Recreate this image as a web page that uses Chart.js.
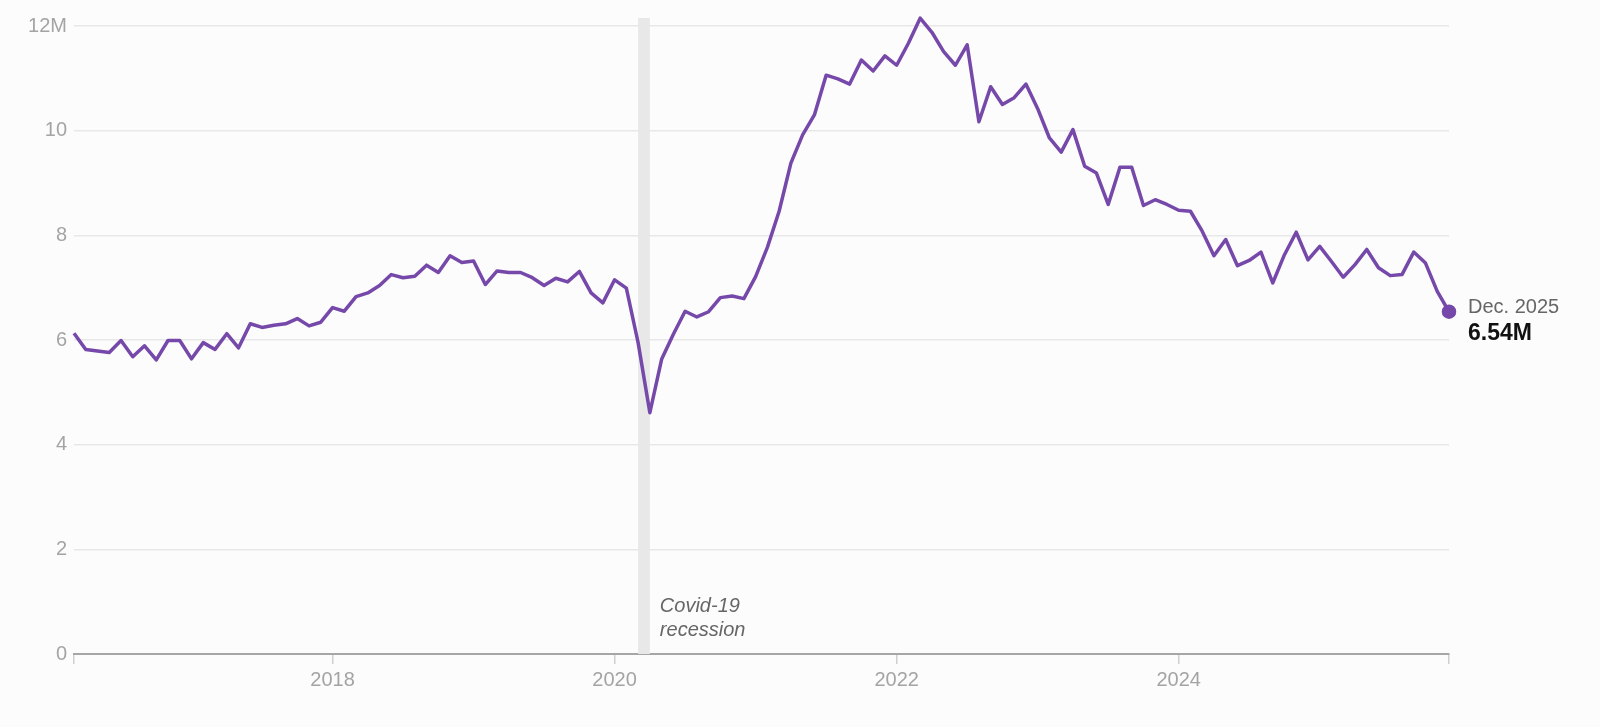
<!DOCTYPE html>
<html>
<head>
<meta charset="utf-8">
<title>Job openings</title>
<script src="https://cdn.jsdelivr.net/npm/chart.js@4.4.1/dist/chart.umd.min.js"></script>
<style>
    html, body { margin: 0; padding: 0; background: #fcfcfc; }
    #wrap { position: relative; width: 1600px; height: 727px; }
</style>
</head>
<body>
<div id="wrap"><canvas id="jobs-chart"></canvas></div>
<script>
"use strict";

// First month on the axis (March 2016), one value per month after that
const START_YEAR = 2016;
const START_MONTH = 3;

// Job openings, millions, Mar 2016 .. Dec 2025
const OPENINGS = [
    6.13, 5.82, 5.79, 5.76, 5.99, 5.68, 5.89, 5.62, 5.99, 5.99,
    5.64, 5.95, 5.82, 6.12, 5.85, 6.31, 6.24, 6.28, 6.31, 6.41,
    6.27, 6.34, 6.62, 6.55, 6.83, 6.90, 7.04, 7.25, 7.19, 7.22,
    7.43, 7.29, 7.61, 7.48, 7.51, 7.06, 7.32, 7.29, 7.29, 7.19,
    7.04, 7.18, 7.11, 7.31, 6.90, 6.71, 7.15, 6.99, 5.95, 4.61,
    5.63, 6.11, 6.55, 6.44, 6.54, 6.81, 6.84, 6.79, 7.21, 7.77,
    8.46, 9.38, 9.92, 10.30, 11.06, 10.99, 10.89, 11.35, 11.14, 11.43,
    11.25, 11.67, 12.15, 11.88, 11.51, 11.25, 11.64, 10.17, 10.84, 10.50,
    10.63, 10.89, 10.42, 9.86, 9.59, 10.02, 9.32, 9.19, 8.59, 9.30,
    9.30, 8.57, 8.68, 8.59, 8.48, 8.46, 8.08, 7.61, 7.92, 7.42,
    7.52, 7.68, 7.09, 7.63, 8.06, 7.53, 7.79, 7.50, 7.20, 7.44,
    7.73, 7.38, 7.23, 7.25, 7.68, 7.47, 6.93, 6.54
];

const YEAR_TICKS = ["2018", "2020", "2022", "2024"];
const Y_MAX = 12;
const Y_STEP = 2;

const RECESSION = ["2020-03", "2020-04"];
const RECESSION_TEXT = ["Covid-19", "recession"];
const END_DATE_TEXT = "Dec. 2025";
const END_VALUE_TEXT = "6.54M";

(function () {
    const FONT = "'Liberation Sans', Arial, sans-serif";
    const PURPLE = "#7548a9";
    const TICK_GREY = "#a4a4a4";

    /**
     * Month keys like 2016-03 for every value
     */
    function buildMonths(n) {
        const out = [];
        for (let i = 0; i < n; i++) {
            const m = START_MONTH - 1 + i;
            const y = START_YEAR + Math.floor(m / 12);
            out.push(y + "-" + String((m % 12) + 1).padStart(2, "0"));
        }
        return out;
    }

    const months = buildMonths(OPENINGS.length);
    const last = OPENINGS.length - 1;

    /**
     * Recession band, its note and the end-of-line label
     */
    const annotations = {
        id: "annotations",
        beforeDatasetsDraw: function (chart) {
            const c = chart.ctx;
            const xs = chart.scales.x;
            const ys = chart.scales.y;
            const x0 = xs.getPixelForValue(months.indexOf(RECESSION[0]));
            const x1 = xs.getPixelForValue(months.indexOf(RECESSION[1]));
            const top = ys.top - 8;

            c.save();
            c.fillStyle = "#e8e8e8";
            c.fillRect(x0, top, x1 - x0, ys.bottom - top);

            c.fillStyle = "#666";
            c.font = "italic 20px " + FONT;
            c.textAlign = "left";
            c.textBaseline = "alphabetic";
            c.fillText(RECESSION_TEXT[0], x1 + 10, ys.bottom - 42);
            c.fillText(RECESSION_TEXT[1], x1 + 10, ys.bottom - 18);
            c.restore();
        },
        afterDatasetsDraw: function (chart) {
            const c = chart.ctx;
            const px = chart.scales.x.getPixelForValue(last);
            const py = chart.scales.y.getPixelForValue(OPENINGS[last]);

            c.save();
            c.textAlign = "left";
            c.textBaseline = "alphabetic";
            c.fillStyle = "#666";
            c.font = "20px " + FONT;
            c.fillText(END_DATE_TEXT, px + 19, py + 1);
            c.fillStyle = "#111";
            c.font = "bold 23px " + FONT;
            c.fillText(END_VALUE_TEXT, px + 19, py + 28);
            c.restore();
        },
    };

    const ctx = document.getElementById("jobs-chart").getContext("2d");

    new Chart(ctx, {
        type: "line",
        data: {
            labels: months,
            datasets: [
                {
                    label: "Job openings",
                    data: OPENINGS,
                    borderColor: PURPLE,
                    backgroundColor: PURPLE,
                    borderWidth: 3.5,
                    tension: 0,
                    fill: false,
                    clip: false,
                    pointRadius: function (c) {
                        return c.dataIndex === last ? 5.5 : 0;
                    },
                    pointHoverRadius: 0,
                    borderJoinStyle: "round",
                },
            ],
        },
        options: {
            animation: false,
            responsive: true,
            maintainAspectRatio: false,
            devicePixelRatio: 1,
            layout: {
                padding: { top: 26, right: 151, left: 0, bottom: 0 },
            },
            plugins: {
                legend: { display: false },
                tooltip: { enabled: false },
            },
            scales: {
                x: {
                    type: "category",
                    offset: false,
                    afterFit: function (scale) {
                        scale.height = 73;
                    },
                    border: { display: true, color: "#a6a6a6", width: 2 },
                    grid: {
                        drawOnChartArea: false,
                        drawTicks: true,
                        tickLength: 10,
                        color: "#cfcfcf",
                        lineWidth: 1.5,
                    },
                    ticks: {
                        autoSkip: false,
                        maxRotation: 0,
                        minRotation: 0,
                        padding: 4,
                        color: TICK_GREY,
                        font: { family: FONT, size: 20 },
                        callback: function (value, index) {
                            if (index === 0 || index === last) return "";
                            const key = months[index];
                            const yr = key.slice(0, 4);
                            if (key.endsWith("-01") && YEAR_TICKS.includes(yr)) {
                                return yr;
                            }
                            return null;
                        },
                    },
                },
                y: {
                    min: 0,
                    max: Y_MAX,
                    afterFit: function (scale) {
                        scale.width = 74;
                    },
                    border: { display: false },
                    grid: {
                        drawTicks: false,
                        lineWidth: 1.5,
                        color: function (c) {
                            return c.tick && c.tick.value === 0
                                ? "rgba(0,0,0,0)"
                                : "#e8e8e8";
                        },
                    },
                    ticks: {
                        stepSize: Y_STEP,
                        padding: 7,
                        color: TICK_GREY,
                        font: { family: FONT, size: 20 },
                        callback: function (value) {
                            return value === Y_MAX ? value + "M" : value;
                        },
                    },
                },
            },
        },
        plugins: [annotations],
    });
})();
</script>
</body>
</html>
